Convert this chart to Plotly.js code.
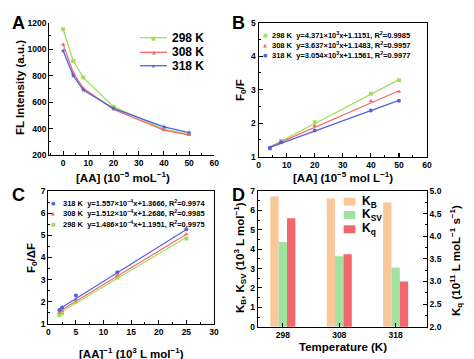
<!DOCTYPE html>
<html><head><meta charset="utf-8">
<script src="https://cdn.plot.ly/plotly-3.0.1.min.js"></script>
<style>html,body{margin:0;padding:0;background:#fff}#chart{width:474px;height:359px}</style>
</head><body><div id="chart"></div>
<script>
// ---- data ----
const concA = [0, 4, 8, 20, 40, 50];
const fl298 = [1150, 910, 785, 565, 396, 358];
const fl308 = [1036, 822, 704, 545, 388, 351];
const fl318 = [988, 800, 691, 553, 413, 370];

const concB = [4, 8, 20, 40, 50];
const b298 = [1.25, 1.47, 2.03, 2.88, 3.28];
const b308 = [1.22, 1.42, 1.92, 2.66, 2.94];
const b318 = [1.27, 1.43, 1.78, 2.38, 2.67];
const slopeB = [4.371, 3.637, 3.054];      // x10^3, x in 1e-5 mol/L
const interceptB = [1.1151, 1.1483, 1.1561];
const r2B = ['0.9985', '0.9957', '0.9977'];

const concC = [2, 2.5, 5, 12.5, 25];
const c318 = [1.63, 1.74, 2.29, 3.33, 5.27];
const c308 = [1.51, 1.60, 2.11, 3.20, 5.05];
const c298 = [1.41, 1.48, 2.00, 3.10, 4.86];
const slopeC = [1.557, 1.512, 1.486];      // x10^-4, x in 1e3 L/mol
const interceptC = [1.3666, 1.2686, 1.1951];
const r2C = ['0.9974', '0.9985', '0.9975'];

const temps = ['298', '308', '318'];
const KB = [6.72, 6.61, 6.41];
const KSV = [4.37, 3.64, 3.05];
const Kq = [4.40, 3.60, 3.00];

// ---- style ----
const W = 474, H = 359;
const FF = 'Liberation Sans, Arial, sans-serif';
const GREEN = '#a3de5c', RED = '#f26b6b', BLUE = '#4f62e6';
const ORANGE = '#f9c89a', LGREEN = '#a2e2a0', KRED = '#f2666d';
const px = v => v / W, py = v => 1 - v / H;

function fitLine(xs, s, b, scale) {
  const x0 = xs[0], x1 = xs[xs.length - 1];
  return {x: [x0, x1], y: [b + s * scale * x0, b + s * scale * x1]};
}

const traces = [];
// Panel A
[[fl298, GREEN, 'square'], [fl308, RED, 'triangle-up'], [fl318, BLUE, 'star']].forEach(([d, c, m]) => {
  traces.push({x: concA, y: d, xaxis: 'x', yaxis: 'y', mode: 'lines+markers', type: 'scatter',
    line: {color: c, width: 1.3}, marker: {color: c, symbol: m, size: 4}, showlegend: false});
});
// Panel B
[[b298, GREEN, 'square', 0], [b308, RED, 'triangle-up', 1], [b318, BLUE, 'circle', 2]].forEach(([d, c, m, i]) => {
  traces.push({x: concB, y: d, xaxis: 'x2', yaxis: 'y2', mode: 'markers', type: 'scatter',
    marker: {color: c, symbol: m, size: 4}, showlegend: false});
  const f = fitLine(concB, slopeB[i], interceptB[i], 0.01);
  traces.push({x: f.x, y: f.y, xaxis: 'x2', yaxis: 'y2', mode: 'lines', type: 'scatter',
    line: {color: c, width: 1.2}, showlegend: false});
});
// Panel C
[[c298, GREEN, 'square', 2], [c308, RED, 'triangle-up', 1], [c318, BLUE, 'circle', 0]].forEach(([d, c, m, i]) => {
  traces.push({x: concC, y: d, xaxis: 'x3', yaxis: 'y3', mode: 'markers', type: 'scatter',
    marker: {color: c, symbol: m, size: 4}, showlegend: false});
  const f = fitLine(concC, slopeC[i], interceptC[i], 0.1);
  traces.push({x: f.x, y: f.y, xaxis: 'x3', yaxis: 'y3', mode: 'lines', type: 'scatter',
    line: {color: c, width: 1.2}, showlegend: false});
});
// Panel D
const BW = 0.148;
const idx = temps.map((t, i) => i);
traces.push({x: idx, y: KB, xaxis: 'x4', yaxis: 'y4', type: 'bar', width: BW, offset: -1.5 * BW,
  marker: {color: ORANGE}, showlegend: false});
traces.push({x: idx, y: KSV, xaxis: 'x4', yaxis: 'y4', type: 'bar', width: BW, offset: -0.5 * BW,
  marker: {color: LGREEN}, showlegend: false});
traces.push({x: idx, y: Kq, xaxis: 'x4', yaxis: 'y5', type: 'bar', width: BW, offset: 0.5 * BW,
  marker: {color: KRED}, showlegend: false});

const tickFont = {family: FF, size: 8.5, color: '#000', weight: 'bold'};
const titleFont = {family: FF, size: 11.5, color: '#000', weight: 'bold'};
function mn(d) { return {ticks: 'inside', ticklen: 2, dtick: d, tickcolor: '#000', tickwidth: 1}; }
function ax(extra) {
  return Object.assign({showline: true, linecolor: '#000', linewidth: 1.2, ticks: 'inside', ticklen: 4,
    tickwidth: 1.1, tickcolor: '#000', showgrid: false, zeroline: false, tickfont: tickFont}, extra);
}

const layout = {
  width: W, height: H, margin: {l: 0, r: 0, t: 0, b: 0}, paper_bgcolor: '#fff', plot_bgcolor: '#fff',
  showlegend: false, barmode: 'overlay',
  xaxis: ax({domain: [px(49.3), px(214.3)], range: [-5.5, 60], dtick: 10, tick0: 0, anchor: 'y', minor: mn(5)}),
  yaxis: ax({domain: [py(155), py(22.7)], range: [200, 1200], dtick: 200, anchor: 'x', minor: mn(100)}),
  xaxis2: ax({domain: [px(258.7), px(427)], range: [0, 60], dtick: 10, anchor: 'y2', mirror: true, minor: mn(5)}),
  yaxis2: ax({domain: [py(156.7), py(22.7)], range: [1, 5], dtick: 1, anchor: 'x2', mirror: true, minor: mn(0.5)}),
  xaxis3: ax({domain: [px(48.3), px(214)], range: [0, 30], dtick: 5, anchor: 'y3', mirror: true, minor: mn(2.5)}),
  yaxis3: ax({domain: [py(324), py(191)], range: [1, 7], dtick: 1, anchor: 'x3', mirror: true, minor: mn(0.5)}),
  xaxis4: ax({domain: [px(258), px(426.7)], range: [-0.44, 2.55], anchor: 'y4', mirror: true,
    tickvals: idx, ticktext: temps}),
  yaxis4: ax({domain: [py(326.7), py(191)], range: [0, 7], dtick: 1, anchor: 'x4', minor: mn(0.5)}),
  yaxis5: ax({domain: [py(326.7), py(191)], range: [2, 5], dtick: 0.5, tickformat: '.1f', anchor: 'x4',
    overlaying: 'y4', side: 'right', minor: mn(0.25)}),
  annotations: [], shapes: []
};

// axis titles (placed as annotations at measured positions)
const axTitles = [
  ['[AA] (10<sup>−5</sup> moL<sup>−1</sup>)', 123, 177, 0],
  ['FL Intensity (a.u.)', 20, 88, -90],
  ['[AA] (10<sup>−5</sup> mol L<sup>−1</sup>)', 343, 177, 0],
  ['F<sub>0</sub>/F', 241, 90, -90],
  ['[AA]<sup>−1</sup> (10<sup>3</sup> L mol<sup>−1</sup>)', 131, 353, 0],
  ['F<sub>0</sub>/ΔF', 32, 258, -90],
  ['Temperature (K)', 343, 347, 0],
  ['K<sub>B</sub>, K<sub>SV</sub> (10<sup>3</sup> L mol<sup>−1</sup>)', 240, 258, -90],
  ['K<sub>q</sub> (10<sup>11</sup> L moL<sup>−1</sup> s<sup>−1</sup>)', 456, 261, -90]
];
axTitles.forEach(([t, x, y, a]) => {
  layout.annotations.push({text: t, xref: 'paper', yref: 'paper', x: px(x), y: py(y), showarrow: false,
    xanchor: 'center', yanchor: 'middle', textangle: a, font: titleFont});
});

// panel letters
[['A', 18, 23], ['B', 238, 23], ['C', 18, 195], ['D', 238, 195]].forEach(([t, x, y]) => {
  layout.annotations.push({text: t, xref: 'paper', yref: 'paper', x: px(x), y: py(y), showarrow: false,
    xanchor: 'center', yanchor: 'middle', font: {family: FF, size: 18, color: '#000', weight: 'bold'}});
});

// legend A
const legA = [['298 K', GREEN, '■', 37.7], ['308 K', RED, '▲', 52.3], ['318 K', BLUE, '★', 65.7]];
legA.forEach(([t, c, g, y]) => {
  layout.shapes.push({type: 'line', xref: 'paper', yref: 'paper', x0: px(140), x1: px(167), y0: py(y), y1: py(y),
    line: {color: c, width: 1.3}});
  layout.annotations.push({text: g, xref: 'paper', yref: 'paper', x: px(153.5), y: py(y), showarrow: false,
    xanchor: 'center', yanchor: 'middle', font: {family: 'DejaVu Sans', size: 5, color: c}});
  layout.annotations.push({text: t, xref: 'paper', yref: 'paper', x: px(170), y: py(y), showarrow: false,
    xanchor: 'left', yanchor: 'middle', font: {family: FF, size: 12, color: '#000', weight: 'bold'}});
});

// legend B
const legFont = {family: FF, size: 7.5, color: '#000', weight: 'bold'};
const legB = [['298 K', GREEN, '■', 35, 0], ['308 K', RED, '▲', 45, 1], ['318 K', BLUE, '●', 55, 2]];
legB.forEach(([t, c, g, y, i]) => {
  layout.annotations.push({text: g, xref: 'paper', yref: 'paper', x: px(265), y: py(y), showarrow: false,
    xanchor: 'center', yanchor: 'middle', font: {family: 'DejaVu Sans', size: 5, color: c}});
  layout.annotations.push({text: t + '  y=' + slopeB[i].toFixed(3) + '×10<sup>3</sup>x+' + interceptB[i].toFixed(4) +
      ', R<sup>2</sup>=' + r2B[i], xref: 'paper', yref: 'paper', x: px(270), y: py(y), showarrow: false,
    xanchor: 'left', yanchor: 'middle', font: legFont});
});
// legend C
const legC = [['318 K', BLUE, '●', 202.7, 0], ['308 K', RED, '▲', 213.3, 1], ['298 K', GREEN, '■', 223.7, 2]];
legC.forEach(([t, c, g, y, i]) => {
  layout.annotations.push({text: g, xref: 'paper', yref: 'paper', x: px(53), y: py(y), showarrow: false,
    xanchor: 'center', yanchor: 'middle', font: {family: 'DejaVu Sans', size: 5, color: c}});
  layout.annotations.push({text: t + '  y=' + slopeC[i].toFixed(3) + '×10<sup>−4</sup>x+' + interceptC[i].toFixed(4) +
      ', R<sup>2</sup>=' + r2C[i], xref: 'paper', yref: 'paper', x: px(61), y: py(y), showarrow: false,
    xanchor: 'left', yanchor: 'middle', font: legFont});
});
// legend D
const legD = [['K<sub>B</sub>', ORANGE, 201.7], ['K<sub>SV</sub>', LGREEN, 215], ['K<sub>q</sub>', KRED, 229.3]];
legD.forEach(([t, c, y]) => {
  layout.shapes.push({type: 'rect', xref: 'paper', yref: 'paper', x0: px(343.7), x1: px(355.3),
    y0: py(y + 4), y1: py(y - 4), fillcolor: c, line: {width: 0}});
  layout.annotations.push({text: t, xref: 'paper', yref: 'paper', x: px(360), y: py(y), showarrow: false,
    xanchor: 'left', yanchor: 'middle', font: {family: FF, size: 12, color: '#000', weight: 'bold'}});
});

Plotly.newPlot('chart', traces, layout, {staticPlot: true, displayModeBar: false});
</script></body></html>
